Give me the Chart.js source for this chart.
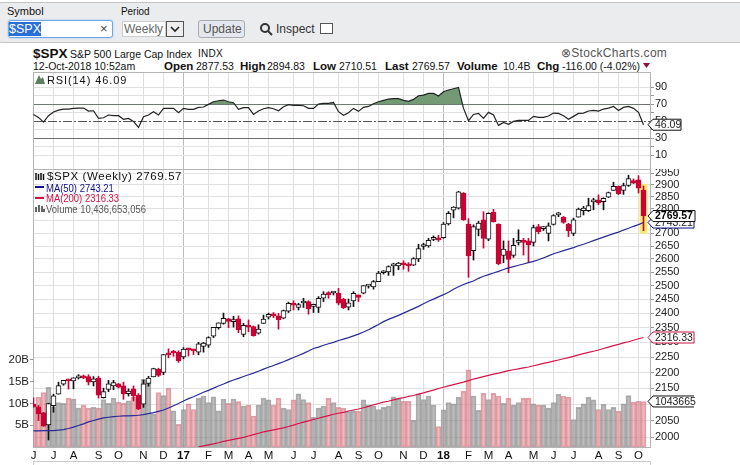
<!DOCTYPE html>
<html>
<head>
<meta charset="utf-8">
<script src="https://cdn.jsdelivr.net/npm/chart.js@4/dist/chart.umd.js"></script>
<style>
  html, body { margin: 0; padding: 0; background: #fff; }
  body { width: 740px; height: 465px; overflow: hidden; position: relative; font-family: "Liberation Sans", Arial, sans-serif; color: #111; }
  canvas { position: absolute; left: 0; }
  .t { position: absolute; white-space: nowrap; font-size: 10.5px; line-height: 14px; }
  .b { font-weight: bold; font-size: 11.5px; }
  .n { font-size: 11px; transform: scaleX(.86); transform-origin: left; }
  .bar { position: absolute; left: -6px; top: 2px; width: 760px; height: 39px; background: #ebecee; border: 1px solid #c4c4c4; border-radius: 8px; }
  .field { position: absolute; box-sizing: border-box; background: #fff; }
</style>
</head>
<body>
<div class="bar"></div>
<div class="t" style="left:7px;top:4px;font-size:11px">Symbol</div>
<div class="t" style="left:121px;top:4px;font-size:11px;transform:scaleX(.9);transform-origin:left">Period</div>
<div class="field" style="left:8px;top:20px;width:105px;height:18px;border:1px solid #6ea8e8;border-radius:3px;box-shadow:0 0 2px #8ebcf0"></div>
<div class="t" style="left:9px;top:22px;background:#2a6fd6;color:#fff;font-size:12.5px">$SPX</div>
<div class="t" style="left:100px;top:22px;color:#444;font-size:13px">×</div>
<div class="field" style="left:122px;top:21px;width:44px;height:16px;border:1px solid #ccc"></div>
<div class="t" style="left:124px;top:22px;color:#666;font-size:12px">Weekly</div>
<div class="field" style="left:166px;top:21px;width:18px;height:16px;border:1px solid #555;background:#eee"></div>
<svg style="position:absolute;left:170px;top:26px" width="10" height="7"><path d="M1 1L5 5L9 1" fill="none" stroke="#222" stroke-width="1.6"/></svg>
<div class="field" style="left:198px;top:20px;width:47px;height:18px;border:1px solid #aaa;border-radius:3px;background:#e4e8ee"></div>
<div class="t" style="left:203px;top:22px;color:#555;font-size:12px">Update</div>
<svg style="position:absolute;left:259px;top:22px" width="14" height="14"><circle cx="6" cy="6" r="4" fill="none" stroke="#333" stroke-width="2"/><line x1="9" y1="9" x2="13" y2="13" stroke="#333" stroke-width="2"/></svg>
<div class="t" style="left:276px;top:22px;color:#333;font-size:12px">Inspect</div>
<div class="field" style="left:320px;top:23px;width:13px;height:11px;border:1px solid #555"></div>

<div class="t b" style="left:33px;top:45px;font-size:13.5px;line-height:17px">$SPX</div>
<div class="t" style="left:70px;top:47px">S&amp;P 500 Large Cap Index</div>
<div class="t" style="left:198px;top:47px;font-size:10px;letter-spacing:.3px">INDX</div>
<div class="t" style="left:561px;top:46px;color:#555;font-size:12px;letter-spacing:.3px">⊗StockCharts.com</div>
<div class="t" style="left:33px;top:59px">12-Oct-2018 10:52am</div>
<div class="t b" style="left:164px;top:59px">Open</div>
<div class="t" style="left:196px;top:59px">2877.53</div>
<div class="t b" style="left:240px;top:59px">High</div>
<div class="t" style="left:267px;top:59px">2894.83</div>
<div class="t b" style="left:313px;top:59px">Low</div>
<div class="t" style="left:339px;top:59px">2710.51</div>
<div class="t b" style="left:385px;top:59px">Last</div>
<div class="t" style="left:412px;top:59px">2769.57</div>
<div class="t b" style="left:457px;top:59px">Volume</div>
<div class="t" style="left:503px;top:59px">10.4B</div>
<div class="t b" style="left:537px;top:59px">Chg</div>
<div class="t" style="left:562px;top:59px">-116.00 (-4.02%)</div>
<svg style="position:absolute;left:643px;top:63px" width="8" height="6"><path d="M0 0H7L3.5 5Z" fill="#8c0f35"/></svg>

<canvas id="rsiChart" width="740" height="97" style="top:72px"></canvas>
<canvas id="priceChart" width="740" height="296" style="top:169px"></canvas>

<svg style="position:absolute;left:35px;top:74px" width="11" height="10"><path d="M0 10L4 1L6 5L8 3L10 10Z" fill="#5e7f5f"/></svg>
<div class="t" style="left:47px;top:73px;font-size:11px;letter-spacing:.9px">RSI(14) 46.09</div>
<svg style="position:absolute;left:35px;top:172px" width="10" height="9"><path d="M1 1V8M3.5 2V8M6 1V8M8.5 2V8" stroke="#111" stroke-width="1.5"/></svg>
<div class="t" style="left:47px;top:169px;font-size:11.5px;letter-spacing:.6px">$SPX (Weekly) 2769.57</div>
<div style="position:absolute;left:35px;top:186px;width:9px;height:2px;background:#10108a"></div>
<div class="t n" style="left:46px;top:181px;color:#10108a">MA(50) 2743.21</div>
<div style="position:absolute;left:35px;top:197px;width:9px;height:2px;background:#d6103f"></div>
<div class="t n" style="left:46px;top:191px;color:#d6103f">MA(200) 2316.33</div>
<svg style="position:absolute;left:35px;top:204px" width="10" height="8"><path d="M1 8V3M4 8V1M7 8V2M9 8V5" stroke="#666" stroke-width="2"/></svg>
<div class="t n" style="left:46px;top:202px;color:#555">Volume 10,436,653,056</div>

<div style="position:absolute;left:33px;top:461px;width:618px;height:4px;border:1px solid #ccc;border-bottom:0;box-sizing:border-box"></div>

<script>
// weekly bars, Jun 2016 to Oct 2018
const monthTickIndex = [0, 4, 8, 13, 17, 22, 26, 30, 35, 39, 43, 47, 52, 56, 61, 65, 69, 74, 78, 82, 87, 91, 95, 100, 104, 108, 113, 117, 121];
const monthTickLabels = ['J', 'J', 'A', 'S', 'O', 'N', 'D', '17', 'F', 'M', 'A', 'M', 'J', 'J', 'A', 'S', 'O', 'N', 'D', '18', 'F', 'M', 'A', 'M', 'J', 'J', 'A', 'S', 'O'];
const priceTicks = [2000, 2050, 2100, 2150, 2200, 2250, 2300, 2350, 2400, 2450, 2500, 2550, 2600, 2650, 2700, 2750, 2800, 2850, 2900, 2950];
const volumeTicks = [5, 10, 15, 20];
const rsiTicks = [10, 20, 30, 40, 50, 60, 70, 80, 90];
const rsiLabelled = [10, 30, 50, 70, 90];

const openPrices = [
  2100, 2092, 2073, 2037, 2095, 2131, 2163, 2175, 2173, 2183,
  2184, 2187, 2170, 2181, 2120, 2146, 2157, 2164, 2157, 2133,
  2148, 2128, 2100, 2165, 2186, 2210, 2200, 2263, 2266, 2266,
  2251, 2277, 2273, 2267, 2286, 2290, 2321, 2350, 2365, 2381,
  2371, 2381, 2327, 2358, 2354, 2331, 2365, 2387, 2397, 2391,
  2383, 2408, 2432, 2421, 2437, 2442, 2425, 2421, 2454, 2470,
  2473, 2472, 2450, 2422, 2444, 2466, 2472, 2498, 2495, 2515,
  2548, 2551, 2574, 2574, 2584, 2579, 2576, 2600, 2648, 2650,
  2676, 2680, 2683, 2738, 2794, 2802, 2864, 2737, 2632, 2716,
  2754, 2677, 2785, 2737, 2614, 2631, 2614, 2664, 2668, 2670,
  2664, 2727, 2719, 2700, 2736, 2774, 2764, 2737, 2700, 2765,
  2791, 2792, 2828, 2836, 2829, 2847, 2876, 2893, 2876, 2897,
  2918, 2921, 2877.53
];
const highPrices = [
  2120, 2096, 2075, 2103, 2131, 2169, 2175, 2177, 2183, 2193,
  2192, 2193, 2187, 2188, 2150, 2175, 2175, 2165, 2169, 2148,
  2157, 2133, 2176, 2188, 2214, 2214, 2259, 2278, 2273, 2272,
  2282, 2279, 2276, 2300, 2300, 2319, 2351, 2367, 2401, 2383,
  2390, 2391, 2365, 2377, 2356, 2360, 2394, 2401, 2403, 2400,
  2412, 2440, 2445, 2436, 2454, 2445, 2433, 2460, 2478, 2478,
  2477, 2490, 2454, 2451, 2478, 2466, 2500, 2503, 2519, 2553,
  2556, 2574, 2584, 2587, 2593, 2586, 2605, 2657, 2661, 2680,
  2690, 2692, 2743, 2788, 2808, 2872, 2867, 2759, 2734, 2748,
  2787, 2783, 2797, 2738, 2670, 2670, 2680, 2714, 2680, 2680,
  2733, 2736, 2727, 2742, 2775, 2785, 2768, 2740, 2761, 2802,
  2809, 2843, 2843, 2857, 2845, 2869, 2911, 2895, 2907, 2941,
  2925, 2939, 2894.83
];
const lowPrices = [
  2090, 2050, 2033, 1992, 2075, 2131, 2159, 2147, 2148, 2179,
  2180, 2160, 2157, 2119, 2119, 2139, 2145, 2150, 2115, 2125,
  2110, 2083, 2090, 2156, 2186, 2187, 2193, 2248, 2253, 2233,
  2245, 2254, 2259, 2258, 2267, 2283, 2316, 2345, 2362, 2350,
  2352, 2333, 2319, 2336, 2321, 2328, 2365, 2380, 2385, 2345,
  2381, 2403, 2412, 2412, 2421, 2397, 2403, 2403, 2442, 2454,
  2466, 2430, 2417, 2412, 2424, 2442, 2470, 2491, 2487, 2515,
  2543, 2538, 2538, 2559, 2561, 2553, 2575, 2590, 2637, 2645,
  2671, 2668, 2680, 2733, 2762, 2798, 2752, 2531, 2596, 2690,
  2642, 2671, 2745, 2578, 2586, 2548, 2606, 2654, 2615, 2586,
  2650, 2698, 2711, 2670, 2733, 2767, 2740, 2687, 2691, 2765,
  2774, 2788, 2795, 2816, 2795, 2846, 2876, 2858, 2859, 2893,
  2905, 2865, 2710.51
];
const closePrices = [
  2092, 2071, 2033, 2102, 2126, 2158, 2175, 2173, 2183, 2184,
  2183, 2169, 2180, 2128, 2139, 2164, 2168, 2153, 2132, 2141,
  2126, 2085, 2164, 2182, 2213, 2191, 2259, 2258, 2264, 2239,
  2277, 2275, 2271, 2295, 2297, 2316, 2351, 2367, 2383, 2372,
  2378, 2343, 2358, 2352, 2322, 2345, 2380, 2397, 2391, 2378,
  2410, 2436, 2429, 2431, 2439, 2416, 2426, 2454, 2469, 2467,
  2474, 2436, 2420, 2438, 2472, 2457, 2500, 2501, 2515, 2547,
  2550, 2571, 2576, 2584, 2578, 2574, 2602, 2640, 2651, 2672,
  2678, 2674, 2737, 2781, 2806, 2870, 2754, 2612, 2727, 2741,
  2680, 2781, 2747, 2582, 2638, 2598, 2653, 2666, 2664, 2654,
  2723, 2707, 2721, 2730, 2771, 2776, 2744, 2710, 2754, 2798,
  2802, 2813, 2831, 2824, 2843, 2867, 2893, 2862, 2897, 2926,
  2907, 2885, 2769.57
];
// volume in billions
const volumes = [
  9.7, 11.4, 12.5, 13.7, 9.2, 10.2, 10.0, 11.2, 11.0, 8.9,
  9.6, 8.9, 9.1, 8.9, 10.9, 10.0, 11.2, 10.3, 10.0, 10.6,
  11.5, 10.8, 15.5, 15.5, 7.6, 12.5, 11.8, 13.5, 8.3, 5.2,
  8.6, 9.9, 8.6, 11.2, 11.7, 10.2, 11.5, 8.3, 11.0, 10.0,
  11.0, 10.4, 9.4, 9.6, 7.1, 9.6, 11.2, 10.8, 9.6, 11.2,
  8.9, 8.6, 10.8, 12.2, 10.9, 10.2, 6.8, 8.9, 9.4, 11.2,
  10.2, 9.1, 8.9, 8.1, 8.3, 8.2, 10.8, 9.6, 9.4, 8.6,
  9.1, 9.4, 11.5, 11.1, 10.5, 10.5, 6.1, 12.2, 10.9, 11.7,
  9.6, 4.7, 8.5, 10.2, 9.9, 11.4, 12.8, 17.7, 11.7, 8.4,
  12.3, 10.9, 12.3, 11.7, 10.0, 11.2, 9.6, 10.2, 11.2, 11.2,
  9.9, 9.6, 9.6, 8.9, 10.2, 12.1, 11.7, 11.4, 6.3, 9.1,
  9.9, 11.4, 10.8, 8.6, 9.8, 8.6, 9.1, 8.2, 9.9, 11.8,
  10.3, 10.5, 10.44
];
const rsiValues = [
  58.2, 54.7, 49.2, 56.7, 61, 63.3, 64.5, 64.5, 65.3, 65.7,
  65.7, 62.2, 62.5, 53.5, 54.3, 57.5, 56.7, 56.7, 52.4, 53.5,
  50, 42.9, 55.5, 57.5, 61.4, 57.5, 65.3, 65.3, 65.3, 60.2,
  65.3, 64.1, 64.1, 66.5, 66.9, 70, 73.1, 74.3, 75.1, 73.1,
  72, 64.1, 66.1, 66.1, 58.2, 62.2, 64.9, 66.1, 64.9, 62.5,
  67.3, 69.6, 68.8, 68.8, 68.4, 65.3, 65.3, 70.4, 71.2, 71.2,
  72.4, 61.4, 57.1, 60.2, 65.3, 61.8, 66.5, 67.6, 70.8, 73.1,
  74.7, 76.3, 76.7, 76.7, 74.7, 73.5, 75.9, 80.2, 81, 82.9,
  82.9, 79.8, 84.9, 86.9, 88.4, 90, 65.3, 50.8, 58.2, 59.4,
  53.5, 60.6, 57.5, 45.3, 48.8, 46.5, 50, 51.2, 51.2, 51.2,
  55.9, 54.7, 54.7, 56.3, 59.8, 59.4, 56.7, 52.4, 55.9, 59.4,
  59.8, 62.2, 62.9, 62.2, 64.5, 65.7, 67.6, 62.9, 66.5, 67.6,
  65.3, 60.6, 46.09
];
const ma50Values = [
  2019, 2019, 2020, 2020, 2020, 2021, 2023, 2026, 2030, 2035,
  2040, 2046, 2050, 2054, 2058, 2060, 2062, 2063, 2064, 2064,
  2065, 2066, 2068, 2071, 2074, 2078, 2082, 2088, 2095, 2102,
  2110, 2117, 2123, 2130, 2137, 2143, 2150, 2157, 2163, 2170,
  2176, 2181, 2187, 2193, 2198, 2204, 2211, 2217, 2223, 2229,
  2235, 2242, 2249, 2256, 2263, 2271, 2279, 2284, 2290, 2295,
  2300, 2306, 2311, 2316, 2322, 2328, 2335, 2343, 2352, 2361,
  2371, 2379, 2386, 2393, 2401, 2409, 2417, 2425, 2434, 2443,
  2451, 2459, 2467, 2476, 2487, 2496, 2504, 2511, 2517, 2527,
  2535, 2541, 2547, 2553, 2560, 2566, 2571, 2576, 2581, 2586,
  2591, 2597, 2604, 2612, 2620, 2626, 2632, 2638, 2644, 2651,
  2657, 2664, 2671, 2678, 2685, 2692, 2699, 2705, 2713, 2720,
  2728, 2735, 2743.21
];
const ma200Values = [
  null, null, null, null, null, null, null, null, null, null,
  null, null, null, null, null, null, null, null, null, null,
  null, null, null, null, null, null, null, null, null, null,
  null, null, null, 1972, 1975, 1978, 1981, 1984, 1988, 1991,
  1994, 1997, 2000, 2004, 2008, 2012, 2016, 2019, 2022, 2025,
  2028, 2032, 2036, 2041, 2045, 2049, 2053, 2057, 2061, 2065,
  2069, 2072, 2075, 2079, 2082, 2085, 2089, 2093, 2098, 2102,
  2106, 2109, 2113, 2117, 2120, 2124, 2127, 2131, 2135, 2140,
  2144, 2149, 2153, 2157, 2161, 2165, 2169, 2174, 2179, 2183,
  2187, 2191, 2195, 2198, 2202, 2206, 2209, 2212, 2215, 2218,
  2222, 2226, 2230, 2233, 2237, 2241, 2245, 2249, 2253, 2258,
  2262, 2266, 2270, 2274, 2279, 2284, 2289, 2293, 2298, 2302,
  2307, 2312, 2316.33
];

const FONT = '"Liberation Sans", Arial, sans-serif';
const RED = '#cc0033';
const BLACK = '#111';

Chart.defaults.font.family = FONT;
Chart.defaults.font.size = 11;
Chart.defaults.color = '#111';
Chart.defaults.devicePixelRatio = 1;

function fitY(width) {
  return s => {
    s.width = width;
    s.paddingTop = 0;
    s.paddingBottom = 0;
  };
}

function xAxis(showLabels) {
  return {
    type: 'linear',
    offset: false,
    min: -0.1,
    max: 123.5,
    afterBuildTicks: s => { s.ticks = monthTickIndex.map(v => ({ value: v })); },
    afterFit: s => {
      s.height = showLabels ? 18 : 0;
      s.paddingLeft = 0;
      s.paddingRight = 0;
    },
    grid: {
      offset: false,
      drawTicks: false,
      color: c => (c.tick && monthTickLabels[monthTickIndex.indexOf(c.tick.value)].length > 1 ? '#bcbcbc' : '#dfdfdf')
    },
    border: { display: false },
    ticks: {
      display: showLabels,
      autoSkip: false,
      maxRotation: 0,
      padding: 2,
      font: c => ({ weight: c.tick && monthTickLabels[monthTickIndex.indexOf(c.tick.value)].length > 1 ? 'bold' : 'normal', size: 11.5 }),
      callback: v => monthTickLabels[monthTickIndex.indexOf(v)]
    }
  };
}

function callout(ctx, y, text, color, bold, boxRight, closed) {
  const tip = 648, left = 653, h = 5.5;
  ctx.save();
  ctx.font = (bold ? 'bold 10.5px ' : '10.5px ') + FONT;
  ctx.fillStyle = '#fff';
  ctx.strokeStyle = color;
  ctx.lineWidth = 1;
  ctx.beginPath();
  ctx.moveTo(boxRight, y - h);
  ctx.lineTo(left, y - h);
  ctx.lineTo(tip, y);
  ctx.lineTo(left, y + h);
  ctx.lineTo(boxRight, y + h);
  if (closed) ctx.closePath();
  ctx.fill();
  ctx.stroke();
  ctx.fillStyle = bold ? '#000' : '#222';
  ctx.textBaseline = 'middle';
  ctx.fillText(text, left + 2, y + 0.5);
  ctx.restore();
}

// grey outline around each panel
const frame = {
  id: 'frame',
  beforeDatasetsDraw(chart) {
    const { ctx, chartArea: a } = chart;
    ctx.save();
    ctx.strokeStyle = '#b4b4b4';
    ctx.lineWidth = 1;
    ctx.strokeRect(a.left + 0.5, a.top + 0.5, a.width - 1, a.height);
    ctx.restore();
  }
};

// yellow band behind the running week
const lastWeekBand = {
  id: 'lastWeekBand',
  beforeDatasetsDraw(chart) {
    const { ctx, scales } = chart;
    const i = closePrices.length - 1;
    const x = scales.x.getPixelForValue(i);
    const top = scales.y.getPixelForValue(highPrices[i]) - 2;
    const bottom = scales.y.getPixelForValue(lowPrices[i]) + 3;
    ctx.save();
    ctx.fillStyle = '#f3ee73';
    ctx.fillRect(x - 4, top, 8, bottom - top);
    ctx.restore();
  }
};

const priceCallouts = {
  id: 'priceCallouts',
  afterDraw(chart) {
    const { ctx, scales } = chart;
    const n = closePrices.length - 1;
    callout(ctx, scales.y.getPixelForValue(ma200Values[n]), '2316.33', '#cc1144', false, 694, true);
    callout(ctx, scales.vol.getPixelForValue(volumes[n]), '1043665', '#111', false, 694, false);
    callout(ctx, scales.y.getPixelForValue(ma50Values[n]), '2743.21', '#10108a', false, 694, true);
    callout(ctx, scales.y.getPixelForValue(closePrices[n]), '2769.57', '#111', true, 695, true);
  }
};

const rsiCallout = {
  id: 'rsiCallout',
  afterDraw(chart) {
    callout(chart.ctx, chart.scales.y.getPixelForValue(rsiValues[rsiValues.length - 1]), '46.09', '#111', false, 681, true);
  }
};

new Chart(document.getElementById('rsiChart'), {
  type: 'line',
  data: {
    datasets: [{
      data: rsiValues.map((v, i) => ({ x: i, y: v })),
      borderColor: '#222',
      borderWidth: 1.2,
      pointRadius: 0,
      tension: 0,
      fill: { target: { value: 70 }, above: '#739a74', below: 'rgba(0,0,0,0)' }
    }]
  },
  options: {
    responsive: false,
    animation: false,
    layout: { autoPadding: false, padding: { left: 33, top: 0, right: 0, bottom: 0 } },
    plugins: { legend: { display: false }, tooltip: { enabled: false } },
    scales: {
      x: xAxis(false),
      y: {
        position: 'right',
        min: -6,
        max: 108.1,
        afterBuildTicks: s => { s.ticks = rsiTicks.map(v => ({ value: v })); },
        afterFit: fitY(89),
        grid: {
          color: c => {
            const v = c.tick && c.tick.value;
            if (v === 70 || v === 30) return '#6e6e6e';
            if (v === 50) return '#555';
            return '#e2e2e2';
          },
          tickLength: 3,
          tickColor: '#999'
        },
        border: { display: false, dash: c => (c.tick && c.tick.value === 50 ? [9, 2, 2, 2] : []) },
        ticks: {
          autoSkip: false,
          padding: 1,
          color: '#222',
          callback: v => (rsiLabelled.includes(v) ? String(v) : '')
        }
      }
    }
  },
  plugins: [frame, rsiCallout]
});

const wickColors = closePrices.map((c, i) => (c < openPrices[i] ? RED : BLACK));

new Chart(document.getElementById('priceChart'), {
  type: 'bar',
  data: {
    datasets: [
      {
        type: 'line',
        data: ma50Values.map((v, i) => ({ x: i, y: v })),
        borderColor: '#2a2a96',
        borderWidth: 1.2,
        pointRadius: 0,
        tension: 0
      },
      {
        type: 'line',
        data: ma200Values.map((v, i) => ({ x: i, y: v })),
        borderColor: '#d4154a',
        borderWidth: 1.2,
        pointRadius: 0,
        tension: 0
      },
      {
        data: openPrices.map((o, i) => ({ x: i, y: [o, closePrices[i]] })),
        backgroundColor: closePrices.map((c, i) => (c < openPrices[i] ? RED : '#fff')),
        borderColor: wickColors,
        borderWidth: 1,
        borderSkipped: false,
        grouped: false,
        barPercentage: 1,
        categoryPercentage: 1,
        maxBarThickness: 5,
        minBarLength: 2
      },
      {
        data: lowPrices.map((l, i) => ({ x: i, y: [l, highPrices[i]] })),
        backgroundColor: wickColors,
        borderWidth: 0,
        grouped: false,
        barPercentage: 1,
        categoryPercentage: 1,
        maxBarThickness: 1
      },
      {
        yAxisID: 'vol',
        data: volumes.map((v, i) => ({ x: i, y: v })),
        backgroundColor: closePrices.map((c, i) => (c >= closePrices[i - 1] ? 'rgba(145,145,145,.6)' : 'rgba(216,120,130,.5)')),
        borderColor: closePrices.map((c, i) => (c >= closePrices[i - 1] ? 'rgba(125,125,125,.6)' : 'rgba(215,125,135,.7)')),
        borderWidth: 1,
        borderSkipped: false,
        grouped: false,
        barPercentage: 1,
        categoryPercentage: 1,
        maxBarThickness: 5
      }
    ]
  },
  options: {
    responsive: false,
    animation: false,
    layout: { autoPadding: false, padding: 0 },
    plugins: { legend: { display: false }, tooltip: { enabled: false } },
    scales: {
      x: xAxis(true),
      y: {
        type: 'logarithmic',
        position: 'right',
        min: 1971.7,
        max: 2968,
        afterBuildTicks: s => { s.ticks = priceTicks.map(v => ({ value: v })); },
        afterFit: fitY(89),
        grid: { color: '#e2e2e2', tickLength: 3, tickColor: '#999' },
        border: { display: false },
        ticks: { autoSkip: false, padding: 1, color: '#222', callback: v => String(v) }
      },
      vol: {
        position: 'left',
        min: 0,
        max: 63.76,
        afterBuildTicks: s => { s.ticks = volumeTicks.map(v => ({ value: v })); },
        afterFit: fitY(33),
        grid: { drawOnChartArea: false, tickLength: 3, tickColor: '#999' },
        border: { display: false },
        ticks: { autoSkip: false, padding: 1, color: '#222', font: { size: 11.5 }, callback: v => v + 'B' }
      }
    }
  },
  plugins: [frame, lastWeekBand, priceCallouts]
});
</script>
</body>
</html>
